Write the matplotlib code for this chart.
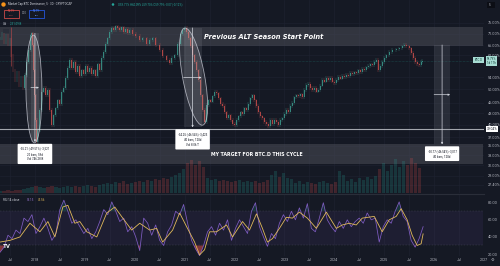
import numpy as np
import matplotlib
matplotlib.use("Agg")
import matplotlib.pyplot as plt
from matplotlib.patches import Ellipse, Rectangle, Circle
from matplotlib.transforms import IdentityTransform
from matplotlib.ticker import NullLocator

plt.rcParams['font.family'] = ['Roboto', 'DejaVu Sans']

# ---------------- data ----------------
price_t_early = [2017.30, 2017.34, 2017.38, 2017.42, 2017.46, 2017.50, 2017.52, 2017.56, 2017.60, 2017.64,
                 2017.68, 2017.72, 2017.76, 2017.80, 2017.84, 2017.88, 2017.92, 2017.94, 2017.96, 2017.98,
                 2018.00, 2018.02, 2018.04, 2018.06, 2018.10, 2018.14, 2018.18, 2018.22, 2018.26, 2018.30,
                 2018.34, 2018.38, 2018.42, 2018.46, 2018.50, 2018.54, 2018.58, 2018.62, 2018.66, 2018.70,
                 2018.74, 2018.78, 2018.82, 2018.86, 2018.90, 2018.94, 2018.98, 2019.02, 2019.06, 2019.10,
                 2019.14, 2019.18, 2019.22, 2019.26, 2019.30, 2019.34, 2019.38, 2019.42, 2019.46, 2019.50,
                 2019.54, 2019.58, 2019.62, 2019.66, 2019.70, 2019.74, 2019.78, 2019.82, 2019.86, 2019.90,
                 2019.96, 2020.02, 2020.10, 2020.16, 2020.24, 2020.30, 2020.36, 2020.42, 2020.50, 2020.56,
                 2020.64, 2020.70, 2020.74, 2020.80, 2020.86, 2020.92, 2020.96, 2021.00, 2021.04, 2021.08,
                 2021.12, 2021.16, 2021.20, 2021.24, 2021.28, 2021.32, 2021.36, 2021.40]
price_v_early = [69.0, 70.8, 67.3, 69.9, 66.5, 68.2, 62.0, 56.4, 53.0, 55.7,
                 51.4, 53.7, 50.4, 54.7, 59.4, 64.0, 70.3, 71.1, 66.1, 56.4,
                 48.2, 41.2, 35.9, 38.7, 43.9, 49.2, 50.4, 48.2, 49.8, 43.9,
                 39.9, 42.5, 44.4, 46.7, 45.6, 49.2, 50.4, 53.7, 57.2, 60.1,
                 57.2, 59.4, 55.7, 57.9, 54.4, 56.4, 54.9, 57.9, 55.7, 57.2,
                 54.9, 56.4, 54.4, 58.6, 56.4, 60.9, 63.2, 66.5, 69.0, 71.7,
                 73.5, 72.6, 74.4, 73.5, 72.6, 73.9, 71.7, 73.1, 71.2, 72.6,
                 70.8, 69.9, 68.2, 69.0, 66.5, 68.2, 69.0, 66.1, 64.0, 61.6,
                 60.1, 59.0, 60.9, 62.0, 66.5, 70.8, 72.6, 73.5, 71.7, 69.0,
                 65.6, 62.0, 59.4, 56.4, 53.0, 48.2, 43.9, 40.7]
price_v_mid = [45.3, 46.7, 46.2, 47.9, 49.2, 48.7, 47.3, 45.6, 45.0, 43.3, 41.7, 42.5, 41.2, 40.2, 39.9,
               41.2, 42.2, 43.3, 42.8, 44.4, 43.9, 45.6, 47.3, 48.2, 46.7, 45.0, 43.3, 42.2, 41.7, 40.7, 40.2, 39.7,
               41.2, 40.2, 41.2, 40.7, 39.9, 41.2, 41.7,
               42.8, 43.9, 43.3, 45.0, 45.9, 47.6, 48.2, 47.9, 48.5, 47.6, 49.8, 51.4, 51.7, 50.4, 49.8, 50.4,
               49.2, 49.8, 51.1, 53.0, 52.4, 53.7, 53.0, 53.7, 52.4, 52.0,
               53.0, 54.0, 53.4, 54.4, 54.0, 54.7, 54.4, 55.4, 55.0, 55.7, 55.4, 56.4, 55.7, 56.8, 56.4, 57.5,
               57.9, 58.6, 58.2, 59.4, 60.1, 56.4, 57.9, 59.4, 60.9, 62.0]
price_t_mid = list(np.round(2021.44 + 0.04 * np.arange(len(price_v_mid)), 2))
price_t_late = [2025.10, 2025.16, 2025.24, 2025.30, 2025.36, 2025.40, 2025.44, 2025.50, 2025.54, 2025.58,
                2025.62, 2025.66, 2025.70, 2025.74, 2025.76]
price_v_late = [63.2, 64.0, 64.4, 64.8, 65.6, 66.1, 65.6, 64.8, 62.8, 60.9,
                59.4, 58.6, 58.2, 59.4, 59.79]

vol_b = [80, 80, 120, 80, 120, 120, 160, 200,
         240, 280, 240, 200, 240, 280, 240, 200, 240, 280, 240, 280, 240, 280, 320, 280, 240,
         320, 360, 400, 360, 440, 400, 480, 360, 400, 440, 480, 440, 520,
         480, 560, 520, 600, 560, 640, 720, 800, 960,
         1200, 1320, 1120, 1280, 1040,
         600, 520, 560, 480, 520, 480, 440, 480, 520, 440, 480,
         440, 480, 400, 440, 520,
         720, 880, 640, 800, 600, 560,
         400, 480, 360, 440, 400, 360, 440, 480, 400, 360, 440,
         880, 720,
         480, 560, 440, 600, 520, 640, 560, 680,
         960, 1200, 880, 1120, 1360, 1040, 1280, 1120, 1400, 1200, 1000]
vol_t = np.round(2017.30 + 0.08 * np.arange(len(vol_b)), 2)

rsi_v = [22, 28, 42, 38, 48, 44, 62, 58, 66, 44, 52, 62, 50, 36, 44, 72, 83, 70, 56, 60,
         52, 44, 50, 38, 46, 58, 72, 66, 81, 70, 58, 62, 46, 52, 40, 24, 62, 56, 42, 54,
         36, 30, 46, 54, 70, 66, 78, 56, 36, 26, 18, 30, 46, 52, 42, 56, 48, 60, 36, 50,
         60, 52, 44, 70, 80, 52, 40, 29, 44, 38, 56, 66, 58, 70, 60, 74, 62, 79, 50, 46,
         62, 80, 60, 52, 46, 58, 50, 60, 52, 58, 62, 56, 68, 60, 62, 34, 52, 60, 56, 70,
         81, 64, 58, 36, 28, 38, 52]
rsi_t = np.round(2017.30 + 0.08 * np.arange(len(rsi_v)), 2)

rsima_t = [2017.30, 2017.50, 2017.70, 2017.90, 2018.10, 2018.26, 2018.40, 2018.56, 2018.66, 2018.80,
           2018.90, 2019.04, 2019.24, 2019.44, 2019.60, 2019.76, 2019.94, 2020.10, 2020.30, 2020.44,
           2020.56, 2020.76, 2020.90, 2021.04, 2021.20, 2021.30, 2021.40, 2021.50, 2021.64, 2021.84,
           2021.96, 2022.16, 2022.30, 2022.44, 2022.56, 2022.66, 2022.76, 2022.90, 2023.04, 2023.16,
           2023.30, 2023.46, 2023.64, 2023.84, 2024.04, 2024.16, 2024.30, 2024.44, 2024.56, 2024.80,
           2024.96, 2025.10, 2025.24, 2025.34, 2025.46, 2025.56, 2025.66, 2025.74, 2025.78]
rsima_v = [34, 36, 40, 56, 46, 58, 40, 75, 77, 56,
           58, 46, 40, 68, 75, 62, 48, 56, 48, 50,
           34, 48, 68, 52, 34, 19, 25, 46, 46, 54,
           40, 58, 48, 67, 50, 34, 38, 50, 63, 62,
           69, 62, 50, 69, 50, 54, 56, 54, 62, 64,
           46, 60, 64, 73, 60, 42, 30, 32, 43.56]

price_ticks = [76, 71, 66, 62, 54, 50, 46, 43, 40, 37, 35, 33, 31, 29, 27.4]
rsi_ticks = [80, 60, 40, 20]
x_ticks = [2017.5, 2018.0, 2018.5, 2019.0, 2019.5, 2020.0, 2020.5, 2021.0, 2021.5, 2022.0,
           2022.5, 2023.0, 2023.5, 2024.0, 2024.5, 2025.0, 2025.5, 2026.0, 2026.5, 2027.0]
x_labels = ['Jul', '2018', 'Jul', '2019', 'Jul', '2020', 'Jul', '2021', 'Jul', '2022',
            'Jul', '2023', 'Jul', '2024', 'Jul', '2025', 'Jul', '2026', 'Jul', '2027']

last_price = 59.79
support_level = 39.04
alt_band = (65.6, 74.0)
target_band = (31.2, 35.5)
measures = [
    (2017.92, 2018.08, 71.12, 35.91, "-35.21 (-49.51%) -3,521\n20 bars, 59d\nVol 746.28 B"),
    (2020.98, 2021.34, 73.60, 39.35, "-34.25 (-46.54%) -3,425\n40 bars, 120d\nVol 8.06 T"),
    (2026.00, 2026.32, 66.10, 35.35, "-30.77 (-46.54%) -3,077\n40 bars, 120d"),
]
ellipses = [
    (2017.97, 70.3, 2017.99, 35.7, 16),
    (2021.00, 73.5, 2021.36, 39.9, 22),
]

# ---------------- style ----------------
BG = '#151924'
GRID = '#1e2230'
TXT = '#b2b5be'
UP = '#26a69a'
DN = '#ef5350'
W, H = 500, 266

def fx(px):
    return px / W

def fy(py):
    return 1 - py / H

fig = plt.figure(figsize=(W / 100, H / 100), dpi=100, facecolor=BG)
ax = fig.add_axes([0, fy(193), fx(484), 193 / H])
rx = fig.add_axes([0, fy(256), fx(484), (256 - 194) / H], sharex=ax)
vx = ax.twinx()
for a in (ax, rx):
    a.set_facecolor(BG)
for a in (ax, rx, vx):
    for s in a.spines.values():
        s.set_visible(False)

ax.set_yscale('log')
ax.set_xlim(2017.30, 2027.0)
ax.set_ylim(26.04, 87.7)
rx.set_ylim(17.7, 90.2)
vx.set_ylim(0, 7720)
vx.set_yticks([])

ax.set_yticks(price_ticks)
ax.yaxis.set_minor_locator(NullLocator())
ax.set_yticklabels([f"{v:.2f}%" for v in price_ticks])
ax.yaxis.tick_right()
ax.tick_params(axis='y', length=0, pad=2.5, labelsize=2.8, labelcolor=TXT)
ax.set_xticks(x_ticks)
ax.tick_params(axis='x', length=0, labelbottom=False)
ax.grid(True, color=GRID, lw=0.45)
ax.set_axisbelow(True)

rx.set_yticks(rsi_ticks)
rx.set_yticklabels([f"{v:.2f}" for v in rsi_ticks])
rx.yaxis.tick_right()
rx.tick_params(axis='y', length=0, pad=2.5, labelsize=2.8, labelcolor=TXT)
rx.set_xticks(x_ticks)
rx.set_xticklabels(x_labels)
rx.tick_params(axis='x', length=0, pad=1.2, labelsize=2.6, labelcolor=TXT)
rx.grid(True, axis='x', color=GRID, lw=0.45)
rx.set_axisbelow(True)
rx.spines['top'].set_visible(True)
rx.spines['top'].set_color('#2a2e39')
rx.spines['top'].set_linewidth(0.8)

# ---------------- price pane ----------------
pt = np.array(price_t_early + price_t_mid + price_t_late)
pv = np.array(price_v_early + price_v_mid + price_v_late)
op = np.r_[pv[0], pv[:-1]]
lo = np.minimum(op, pv)
hi = np.maximum(op, pv)
cols = np.where(pv >= op, '#3fa597', '#d9534f')
ax.vlines(pt, lo * 0.99, hi * 1.01, colors=cols, lw=0.3, alpha=0.7, zorder=3)
ax.bar(pt, hi - lo, bottom=lo, width=0.018, color=cols, alpha=0.75, linewidth=0, zorder=3)

ax.axhspan(alt_band[0], alt_band[1], xmin=0, xmax=0.998, color='#4a4d57', alpha=0.55, lw=0, zorder=2)
ax.axhspan(target_band[0], target_band[1], xmin=0, xmax=0.998, color='#4a4d57', alpha=0.55, lw=0, zorder=2)
ax.text(2022.58, np.sqrt(alt_band[0] * alt_band[1]), "Previous ALT Season Start Point",
        ha='center', va='center', color='white', fontsize=4.8, fontweight='bold', fontstyle='italic',
        family=['DejaVu Sans'], zorder=6)
ax.text(2022.45, np.sqrt(target_band[0] * target_band[1]), "MY TARGET FOR BTC.D THIS CYCLE",
        ha='center', va='center', color='white', fontsize=3.4, fontweight='bold',
        family=['DejaVu Sans'], zorder=6)

ax.axhline(support_level, color='#c8cad0', lw=0.8, alpha=0.8, zorder=4)
ax.axhline(last_price, color=UP, lw=0.4, ls=(0, (1, 1.5)), alpha=0.5, zorder=2)
ax.vlines(2017.52, 58, 74, color=DN, lw=0.5, alpha=0.6, zorder=3)

for t0, t1, vh, vl, txt in measures:
    tm = (t0 + t1) / 2
    ax.fill_between([t0, t1], vl, vh, color='#9598a1', alpha=0.16, lw=0, zorder=4)
    ax.annotate('', xy=(tm, vl), xytext=(tm, vh),
                arrowprops=dict(arrowstyle='-|>', color='#d1d4dc', lw=0.5, mutation_scale=2.5,
                                shrinkA=0, shrinkB=0), zorder=5)
    vm = np.sqrt(vh * vl)
    ax.annotate('', xy=(t1, vm), xytext=(t0, vm),
                arrowprops=dict(arrowstyle='-|>', color='#d1d4dc', lw=0.5, mutation_scale=2.5,
                                shrinkA=0, shrinkB=0), zorder=5)
    ax.annotate(txt, xy=(tm, vl), xytext=(0, -4.5), textcoords='offset pixels',
                ha='center', va='top', fontsize=2.1, color='#131722', linespacing=1.5,
                bbox=dict(boxstyle='round,pad=0.9,rounding_size=0.3', fc='white', ec='none'), zorder=7)

for tt, vt, tb, vb, wpx in ellipses:
    p1 = ax.transData.transform((tt, vt))
    p2 = ax.transData.transform((tb, vb))
    c = (p1 + p2) / 2
    L = np.hypot(*(p2 - p1))
    ang = np.degrees(np.arctan2(p2[1] - p1[1], p2[0] - p1[0]))
    e = Ellipse(c, L, wpx, angle=ang, transform=IdentityTransform(),
                fc=(1, 1, 1, 0.12), ec=(0.85, 0.86, 0.9, 0.7), lw=0.6)
    fig.add_artist(e)

vcol_ref = np.interp(vol_t, pt, pv)
vup = np.r_[True, np.diff(vcol_ref) >= 0]
vx.bar(vol_t, vol_b, width=0.065, color=np.where(vup, UP, DN), alpha=0.2, linewidth=0)

# ---------------- RSI pane ----------------
rsi_v = np.array(rsi_v, dtype=float)
rx.axhspan(30, 70, xmin=0, xmax=0.998, color='#7e57c2', alpha=0.09, lw=0)
rx.axhline(70, color='#787b86', lw=0.35, ls=(0, (3, 3)), alpha=0.4)
rx.axhline(30, color='#787b86', lw=0.35, ls=(0, (3, 3)), alpha=0.4)
rx.fill_between(rsi_t, rsi_v, 30, where=rsi_v < 30, interpolate=True, color=DN, alpha=0.5, lw=0)
rx.fill_between(rsi_t, rsi_v, 70, where=rsi_v > 70, interpolate=True, color=UP, alpha=0.2, lw=0)
rx.plot(rsi_t, rsi_v, color='#8a63d2', lw=0.55, alpha=0.9)
rx.plot(rsima_t, rsima_v, color='#e0b95a', lw=0.6)
rx.text(0.006, 0.93, "RSI 14 close", transform=rx.transAxes, fontsize=2.2, color='#d1d4dc', va='top')
rx.text(0.056, 0.93, f"{rsi_v[-1] + 0.15:.2f}", transform=rx.transAxes, fontsize=2.2, color='#9575cd', va='top')
rx.text(0.079, 0.93, f"{rsima_v[-1]:.2f}", transform=rx.transAxes, fontsize=2.2, color='#e0b95a', va='top')
fig.text(fx(3), fy(247), "TV", fontsize=4.5, fontweight='bold', color='white', va='center')

# ---------------- header ----------------
fig.add_artist(Circle((3.5, H - 4.5), 2.2, transform=IdentityTransform(), fc='#f7931a', ec='none'))
fig.text(fx(8), fy(4.5), "Market Cap BTC Dominance, 5 · 3D · CRYPTOCAP", fontsize=2.1,
         color='#d1d4dc', va='center')
fig.add_artist(Circle((113, H - 4.5), 1.3, transform=IdentityTransform(), fc=UP, ec='none'))
fig.text(fx(118), fy(4.5), "O59.71% H60.09% L59.70% C59.79% -0.07 (-0.12%)", fontsize=2.1,
         color=UP, va='center')
fig.add_artist(Rectangle((4, H - 17.5), 15, 8, transform=IdentityTransform(), fc=BG, ec=DN, lw=0.5))
fig.text(fx(11.5), fy(11.5), "59.79", fontsize=1.9, color=DN, ha='center', va='center')
fig.text(fx(11.5), fy(15.2), "SELL", fontsize=1.6, color=DN, ha='center', va='center')
fig.text(fx(24), fy(13.5), "0.00", fontsize=1.9, color=TXT, ha='center', va='center')
fig.add_artist(Rectangle((29, H - 17.5), 15, 8, transform=IdentityTransform(), fc=BG, ec='#2962ff', lw=0.5))
fig.text(fx(36.5), fy(11.5), "59.79", fontsize=1.9, color='#5b8cff', ha='center', va='center')
fig.text(fx(36.5), fy(15.2), "BUY", fontsize=1.6, color='#5b8cff', ha='center', va='center')
fig.text(fx(3), fy(24), "Vol", fontsize=2.1, color='#d1d4dc', va='center')
fig.text(fx(9.5), fy(24), "231.09 B", fontsize=2.1, color=UP, va='center')
fig.add_artist(Rectangle((2.5, H - 33), 6, 4, transform=IdentityTransform(), fc='#2a2e39', ec='none'))
fig.add_artist(Rectangle((487, H - 7.5), 8, 6, transform=IdentityTransform(), fc='#0c0e15', ec='none'))
fig.text(fx(488.5), fy(4.5), "5", fontsize=2.1, color='#d1d4dc', va='center')

yp_last = H - ax.transData.transform((2020, last_price))[1]
yp_sup = H - ax.transData.transform((2020, support_level))[1]
fig.text(fx(478.5), fy(yp_last - 0.5), "BTC.D", fontsize=2.1, color='#0e3b35', ha='center', va='center',
         bbox=dict(boxstyle='square,pad=0.35', fc='#a7dcd3', ec='none'))
fig.text(fx(491.5), fy(yp_last), f"{last_price:.2f}%\n1d 17h", fontsize=2.1, color='#0e3b35',
         ha='center', va='center', linespacing=1.2,
         bbox=dict(boxstyle='square,pad=0.3', fc='#a7dcd3', ec='none'))
fig.text(fx(492), fy(yp_sup), f"{support_level:.2f}%", fontsize=2.3, color='#131722',
         ha='center', va='center', bbox=dict(boxstyle='square,pad=0.3', fc='white', ec='none'))
fig.text(fx(492), fy(260), "⚙", fontsize=3, color=TXT, ha='center', va='center', family=['DejaVu Sans'])

fig.savefig('out.png', dpi=100, facecolor=BG)
